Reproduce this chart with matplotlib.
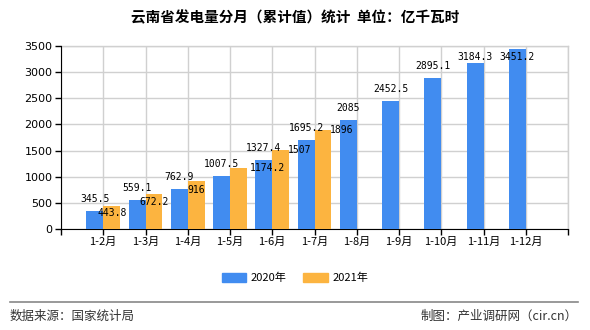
import matplotlib
matplotlib.use("Agg")
import matplotlib.pyplot as plt
import numpy as np
from matplotlib.patches import Patch

plt.rcParams['font.family'] = ['Noto Sans CJK SC', 'DejaVu Sans']

categories = ["1-2月", "1-3月", "1-4月", "1-5月", "1-6月", "1-7月",
              "1-8月", "1-9月", "1-10月", "1-11月", "1-12月"]
values_2020 = [345.5, 559.1, 762.9, 1007.5, 1327.4, 1695.2,
               2085, 2452.5, 2895.1, 3184.3, 3451.2]
values_2021 = [443.8, 672.2, 916, 1174.2, 1507, 1896]
label_2020 = ["345.5", "559.1", "762.9", "1007.5", "1327.4", "1695.2",
              "2085", "2452.5", "2895.1", "3184.3", "3451.2"]
label_2021 = ["443.8", "672.2", "916", "1174.2", "1507", "1896"]
yticks = [0, 500, 1000, 1500, 2000, 2500, 3000, 3500]

# label nudges (pixels) to mimic overlap avoidance in the original
dx21 = [0, 0, 0, 29, 19, 19]
dy21 = [-7, -8, -9, 0, 0, 0]

blue = "#418CF0"
orange = "#FCB440"

fig = plt.figure(figsize=(5.9, 3.3), dpi=100)
ax = fig.add_axes([61/590, 1-229/330, (568-61)/590, (229-46)/330])

x20 = np.arange(len(values_2020))
x21 = np.arange(len(values_2021))
w = 0.4
ax.bar(x20 - w/2, values_2020, width=w, color=blue, zorder=3)
ax.bar(x21 + w/2, values_2021, width=w, color=orange, zorder=3)

ax.set_xlim(-1, len(categories))
ax.set_ylim(0, 3500)
ax.set_yticks(yticks)
ax.set_yticklabels([str(v) for v in yticks], fontsize=8, family='DejaVu Sans')
ticks = np.arange(-1, len(categories) + 1)
ax.set_xticks(ticks)
ax.set_xticklabels([""] + categories + [""], fontsize=8)
ax.tick_params(axis='both', direction='out', length=4, width=1, color='black', pad=2)
ax.grid(True, color='#d0d0d0', linewidth=1, zorder=0)
for s in ['top', 'right']:
    ax.spines[s].set_color('#d0d0d0')
    ax.spines[s].set_linewidth(1)
    ax.spines[s].set_zorder(0)
ax.spines['left'].set_color('black')
ax.spines['bottom'].set_color('black')

ymax_px = 183
for i, v in enumerate(values_2020):
    top_px = v / 3500 * ymax_px
    dy = 12
    if top_px + 12 + 5 > ymax_px:
        dy = (ymax_px - 11) - top_px
    ax.annotate(label_2020[i], (x20[i] - w/2, v), xytext=(0, dy),
                textcoords='offset pixels', ha='center', va='center',
                fontsize=7, family='DejaVu Sans Mono', zorder=5)
for i, v in enumerate(values_2021):
    ax.annotate(label_2021[i], (x21[i] + w/2, v), xytext=(dx21[i], dy21[i]),
                textcoords='offset pixels', ha='center', va='center',
                fontsize=7, family='DejaVu Sans Mono', zorder=5)

fig.text(0.5, 1-17/330, "云南省发电量分月（累计值）统计  单位：亿千瓦时",
         ha='center', va='center', fontsize=10.5, fontweight='bold')

handles = [Patch(color=blue, label="2020年"), Patch(color=orange, label="2021年")]
fig.legend(handles=handles, loc='center', bbox_to_anchor=(0.5, 1-278/330),
           ncol=2, frameon=False, fontsize=8, handlelength=2.2, handleheight=0.9,
           columnspacing=1.5, handletextpad=0.4)

fig.add_artist(plt.Line2D([10/590, 578/590], [1-302/330, 1-302/330],
                          color='#888888', linewidth=1.2))
fig.text(10/590, 1-316/330, "数据来源：国家统计局", ha='left', va='center',
         fontsize=9, color='#333333')
fig.text(578/590, 1-316/330, "制图：产业调研网（cir.cn）", ha='right', va='center',
         fontsize=9, color='#333333')

fig.savefig("out.png", dpi=100)
